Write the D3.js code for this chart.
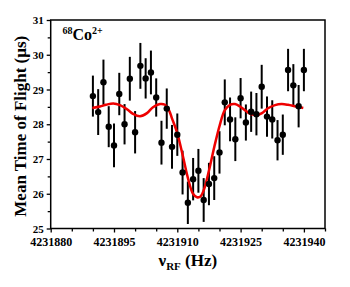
<!DOCTYPE html>
<html><head><meta charset="utf-8">
<script src="https://cdn.jsdelivr.net/npm/d3@7"></script>
<style>body{margin:0;background:#fff}svg{display:block}</style>
</head><body>
<script>
const freq = [4231890,4231891.25,4231892.5,4231893.75,4231895,4231896.25,4231897.5,4231898.75,4231900,4231901.25,
4231902.5,4231903.75,4231905,4231906.25,4231907.5,4231908.75,4231910,4231911.25,4231912.5,4231913.75,
4231915,4231916.25,4231917.5,4231918.75,4231920,4231921.25,4231922.5,4231923.75,4231925,4231926.25,
4231927.5,4231928.75,4231930,4231931.25,4231932.5,4231933.75,4231935,4231936.25,4231937.5,4231938.75,4231940];
const tof = [28.81,28.35,29.21,27.93,27.39,28.87,28.0,29.31,27.77,29.68,
29.32,29.49,28.77,27.47,28.45,27.35,27.7,26.61,25.74,26.42,
26.66,25.82,26.28,26.45,27.19,28.63,28.14,27.57,28.75,28.05,
28.36,28.29,29.08,28.22,28.14,27.54,27.70,29.56,29.12,28.52,29.56];
const err = [0.59,0.66,0.65,0.59,0.63,0.61,0.58,0.63,0.61,0.66,
0.58,0.63,0.55,0.63,0.58,0.63,0.61,0.63,0.61,0.61,
0.63,0.63,0.61,0.63,0.61,0.66,0.63,0.63,0.58,0.52,
0.58,0.61,0.63,0.58,0.55,0.58,0.58,0.61,0.61,0.61,0.61];
const fitFreq = [4231889.86,4231891.68,4231893.10,4231894.83,4231896.42,4231898.08,4231899.50,4231901.16,4231902.82,4231904.24,
4231905.90,4231907.09,4231908.04,4231908.74,4231910.00,4231911.28,4231912.46,4231913.72,4231914.67,4231915.50,
4231916.26,4231917.51,4231918.77,4231920.05,4231921.23,4231922.49,4231923.67,4231924.86,4231926.28,4231927.46,
4231928.82,4231930.07,4231931.49,4231933.15,4231934.74,4231936.23,4231938.13,4231939.86];
const fitTof = [28.47,28.51,28.56,28.60,28.55,28.43,28.30,28.23,28.32,28.49,
28.58,28.56,28.40,28.17,27.74,27.11,26.48,26.00,25.90,25.92,
26.10,26.67,27.35,27.97,28.40,28.56,28.58,28.51,28.38,28.29,
28.26,28.32,28.46,28.55,28.58,28.56,28.51,28.47];
const xMajor = [4231880,4231895,4231910,4231925,4231940];
const yTicks = [25,26,27,28,29,30,31];

const W=350,H=287, L=50.7, R=325, T=20, B=228.5;
const svg = d3.select("body").append("svg").attr("width",W).attr("height",H);
const x = d3.scaleLinear().domain([4231880,4231945]).range([L,R]);
const y = d3.scaleLinear().domain([25,31]).range([B,T]);
const serif = "'Liberation Serif','Times New Roman',serif";

const xMinor = d3.range(4231880,4231946,5).filter(v=>!xMajor.includes(v));
const yMinor = d3.range(25.5,31,1);
svg.append("g").attr("class","xa").attr("transform",`translate(0,${B})`)
  .call(d3.axisBottom(x).tickValues(xMajor).tickFormat(d3.format("d")).tickSize(4).tickPadding(5));
svg.append("g").attr("transform",`translate(0,${B})`)
  .call(d3.axisBottom(x).tickValues(xMinor).tickFormat("").tickSize(3));
svg.append("g").attr("class","ya").attr("transform",`translate(${L},0)`)
  .call(d3.axisLeft(y).tickValues(yTicks).tickFormat(d3.format("d")).tickSize(4).tickPadding(3));
svg.append("g").attr("transform",`translate(${L},0)`)
  .call(d3.axisLeft(y).tickValues(yMinor).tickFormat("").tickSize(3));
svg.selectAll(".tick line").attr("stroke","#000").attr("stroke-width",1.3);
svg.selectAll(".domain").remove();
svg.selectAll(".tick text").attr("font-family",serif).attr("font-weight","bold").attr("fill","#000");
svg.selectAll(".xa .tick text").attr("font-size",12);
svg.selectAll(".ya .tick text").attr("font-size",11);

svg.append("rect").attr("x",L).attr("y",T).attr("width",R-L).attr("height",B-T)
  .attr("fill","none").attr("stroke","#000").attr("stroke-width",1.5);

const pts = freq.map((f,i)=>({f,v:tof[i],e:err[i]}));
svg.append("g").selectAll("line").data(pts).join("line")
  .attr("x1",d=>x(d.f)).attr("x2",d=>x(d.f))
  .attr("y1",d=>y(d.v-d.e)).attr("y2",d=>y(d.v+d.e))
  .attr("stroke","#000").attr("stroke-width",2);

const fit = fitFreq.map((f,i)=>[x(f),y(fitTof[i])]);
svg.append("path").attr("d",d3.line().curve(d3.curveCatmullRom)(fit))
  .attr("fill","none").attr("stroke","#ee0000").attr("stroke-width",2.5);

svg.append("g").selectAll("circle").data(pts).join("circle")
  .attr("cx",d=>x(d.f)).attr("cy",d=>y(d.v)).attr("r",3.2).attr("fill","#000");

const iso = svg.append("text").attr("x",62.5).attr("y",40).attr("font-family",serif).attr("font-weight","bold").attr("font-size",16);
iso.append("tspan").attr("font-size",10).attr("dy",-6).text("68");
iso.append("tspan").attr("dy",6).text("Co");
iso.append("tspan").attr("font-size",10).attr("dy",-6).text("2+");

svg.append("text").attr("transform",`translate(26,${(T+B)/2+2}) rotate(-90)`)
  .attr("text-anchor","middle").attr("font-family",serif).attr("font-weight","bold").attr("font-size",17)
  .text("Mean Time of Flight (μs)");

const xl = svg.append("text").attr("x",(L+R)/2).attr("y",266).attr("text-anchor","middle")
  .attr("font-family",serif).attr("font-weight","bold").attr("font-size",17);
xl.append("tspan").text("ν");
xl.append("tspan").attr("font-size",11).attr("dy",4).text("RF");
xl.append("tspan").attr("dy",-4).text(" (Hz)");
</script>
</body></html>
